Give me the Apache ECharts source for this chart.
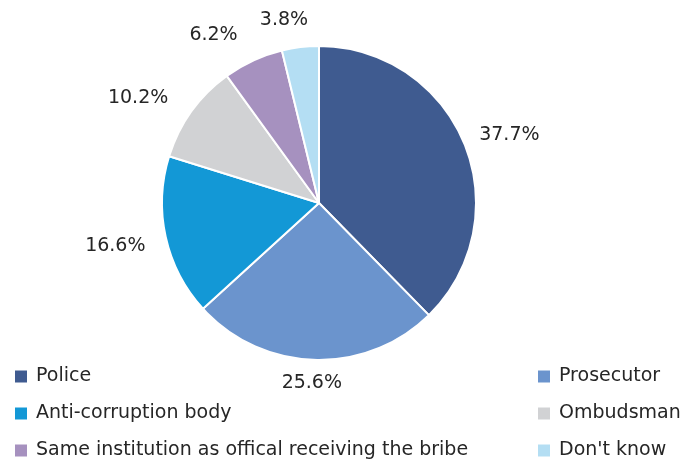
<!DOCTYPE html>
<html>
<head>
<meta charset="utf-8">
<script src="https://cdn.jsdelivr.net/npm/echarts@6/dist/echarts.min.js"></script>
<style>
  html, body { margin: 0; padding: 0; background: #fff; }
  #chart { width: 699px; height: 462px; }
</style>
</head>
<body>
<div id="chart"></div>
<script>
var categories = ['Police', 'Prosecutor', 'Anti-corruption body', 'Ombudsman',
  'Same institution as offical receiving the bribe', "Don't know"];
var shares = [37.7, 25.6, 16.6, 10.2, 6.2, 3.8];
var colors = ['#3F5B90', '#6B94CD', '#1398D6', '#D1D2D4', '#A691BF', '#B4DEF3'];

var leftItems = [categories[0], categories[2], categories[4]];
var rightItems = [categories[1], categories[3], categories[5]];

// small hand nudges for the outside labels (the original spreads the top ones apart)
var labelNudge = [[1, 9], [-2, -3], [-4, -1], [-16, 14], [-25, 6], [-13, 1]];

var cx = 319, cy = 203, R = 157;
var FONT = 'DejaVu Sans';

// mid angle of slice i, in radians clockwise from 12 o'clock
function midAngle(i) {
  var total = shares.reduce(function (s, v) { return s + v; }, 0);
  var before = 0;
  for (var k = 0; k < i; k++) before += shares[k];
  return (before + shares[i] / 2) / total * Math.PI * 2;
}

var chart = echarts.init(document.getElementById('chart'));

var legendBase = {
  orient: 'vertical',
  top: 367,
  height: 95,
  padding: 0,
  icon: 'rect',
  itemWidth: 12,
  itemHeight: 12,
  itemGap: 18,
  itemStyle: { borderWidth: 0 },
  textStyle: { fontFamily: FONT, fontSize: 19, color: '#262626', lineHeight: 18, padding: [0, 0, 0, 4] }
};

chart.setOption({
  animation: false,
  color: colors,
  legend: [
    Object.assign({}, legendBase, { left: 15, data: leftItems }),
    Object.assign({}, legendBase, { left: 538, data: rightItems })
  ],
  series: [{
    type: 'pie',
    center: [cx, cy],
    radius: [0, R],
    startAngle: 90,
    clockwise: true,
    avoidLabelOverlap: false,
    itemStyle: { borderColor: '#fff', borderWidth: 2 },
    label: {
      show: true,
      position: 'outside',
      formatter: function (p) { return p.value.toFixed(1) + '%'; },
      fontFamily: FONT,
      fontSize: 19,
      color: '#262626'
    },
    labelLine: { show: false },
    labelLayout: function (p) {
      var a = midAngle(p.dataIndex);
      var ux = Math.sin(a), uy = -Math.cos(a);
      var w = p.labelRect.width, h = p.labelRect.height;
      var d = R + 16 + Math.abs(ux) * w / 2 + Math.abs(uy) * h / 2;
      var n = labelNudge[p.dataIndex];
      return { x: cx + ux * d + n[0], y: cy + uy * d + n[1], align: 'center', verticalAlign: 'middle' };
    },
    data: categories.map(function (c, i) { return { name: c, value: shares[i] }; })
  }]
});
</script>
</body>
</html>
